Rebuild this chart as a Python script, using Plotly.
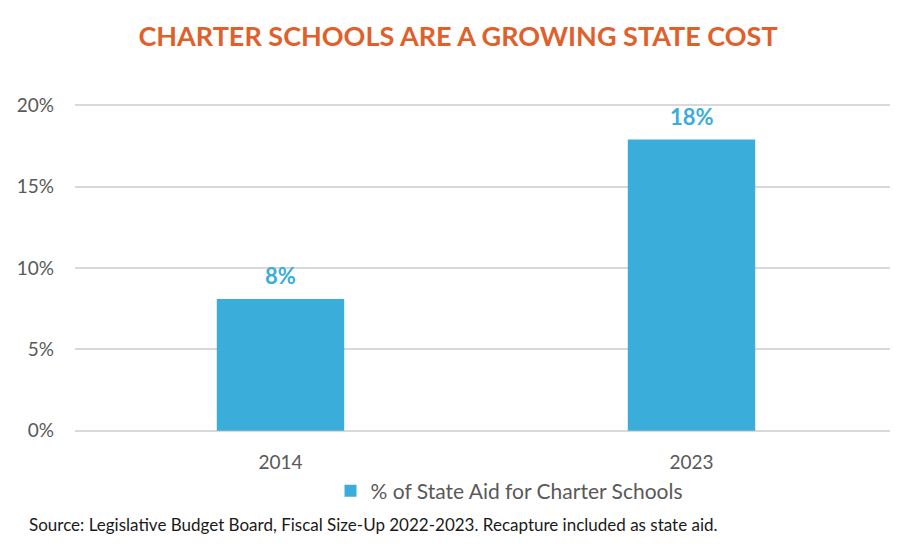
import plotly.graph_objects as go

years = ["2014", "2023"]
share_pct = [8.1, 17.9]
bar_labels = ["8%", "18%"]
tick_vals = [0, 5, 10, 15, 20]
tick_text = ["0%", "5%", "10%", "15%", "20%"]
series_name = "% of State Aid for Charter Schools"
title_text = "CHARTER SCHOOLS ARE A GROWING STATE COST"
source_text = "Source: Legislative Budget Board, Fiscal Size-Up 2022-2023. Recapture included as state aid."

FONT = "Lato, 'Open Sans', sans-serif"
BLUE = "#3BADDB"

fig = go.Figure()
fig.add_trace(go.Bar(
    x=years, y=share_pct, name=series_name,
    marker=dict(color=BLUE, line=dict(width=0)),
    showlegend=True,
))

annotations = []
for i, (val, lab) in enumerate(zip(share_pct, bar_labels)):
    annotations.append(dict(x=i, y=val, xref="x", yref="y", text="<b>" + lab + "</b>",
                            showarrow=False, yanchor="middle", yshift=23,
                            font=dict(family=FONT, size=22, color=BLUE)))

annotations.append(dict(text=source_text, xref="paper", yref="paper",
                        x=-0.0584, xanchor="left",
                        y=-0.2835, yanchor="middle", showarrow=False,
                        font=dict(family=FONT, size=17, color="#1a1a1a")))

fig.update_layout(
    width=890, height=538,
    paper_bgcolor="white", plot_bgcolor="white",
    margin=dict(l=67, r=1, t=96, b=114),
    bargap=0.69,
    font=dict(family=FONT, color="#595959"),
    title=dict(text="<b>" + title_text + "</b>", x=450 / 890, xanchor="center",
               y=1 - 29 / 538, yanchor="middle",
               font=dict(family=FONT, size=27, color="#E0602B")),
    xaxis=dict(type="category", range=[-0.5, 1.5], showgrid=False, showline=False, ticks="",
               ticklabelstandoff=17,
               tickfont=dict(size=19, color="#595959")),
    yaxis=dict(range=[-0.08, 20.08], tickvals=tick_vals, ticktext=tick_text,
               showgrid=True, gridcolor="#D9D9D9", gridwidth=1.5,
               zeroline=False, showline=False, ticks="",
               ticklabelstandoff=20,
               tickfont=dict(size=19, color="#595959")),
    legend=dict(orientation="h", x=0.528, xanchor="center", y=-0.18, yanchor="middle",
                font=dict(size=21, color="#595959"), itemwidth=30),
    annotations=annotations,
)

fig.write_html("out.html")
